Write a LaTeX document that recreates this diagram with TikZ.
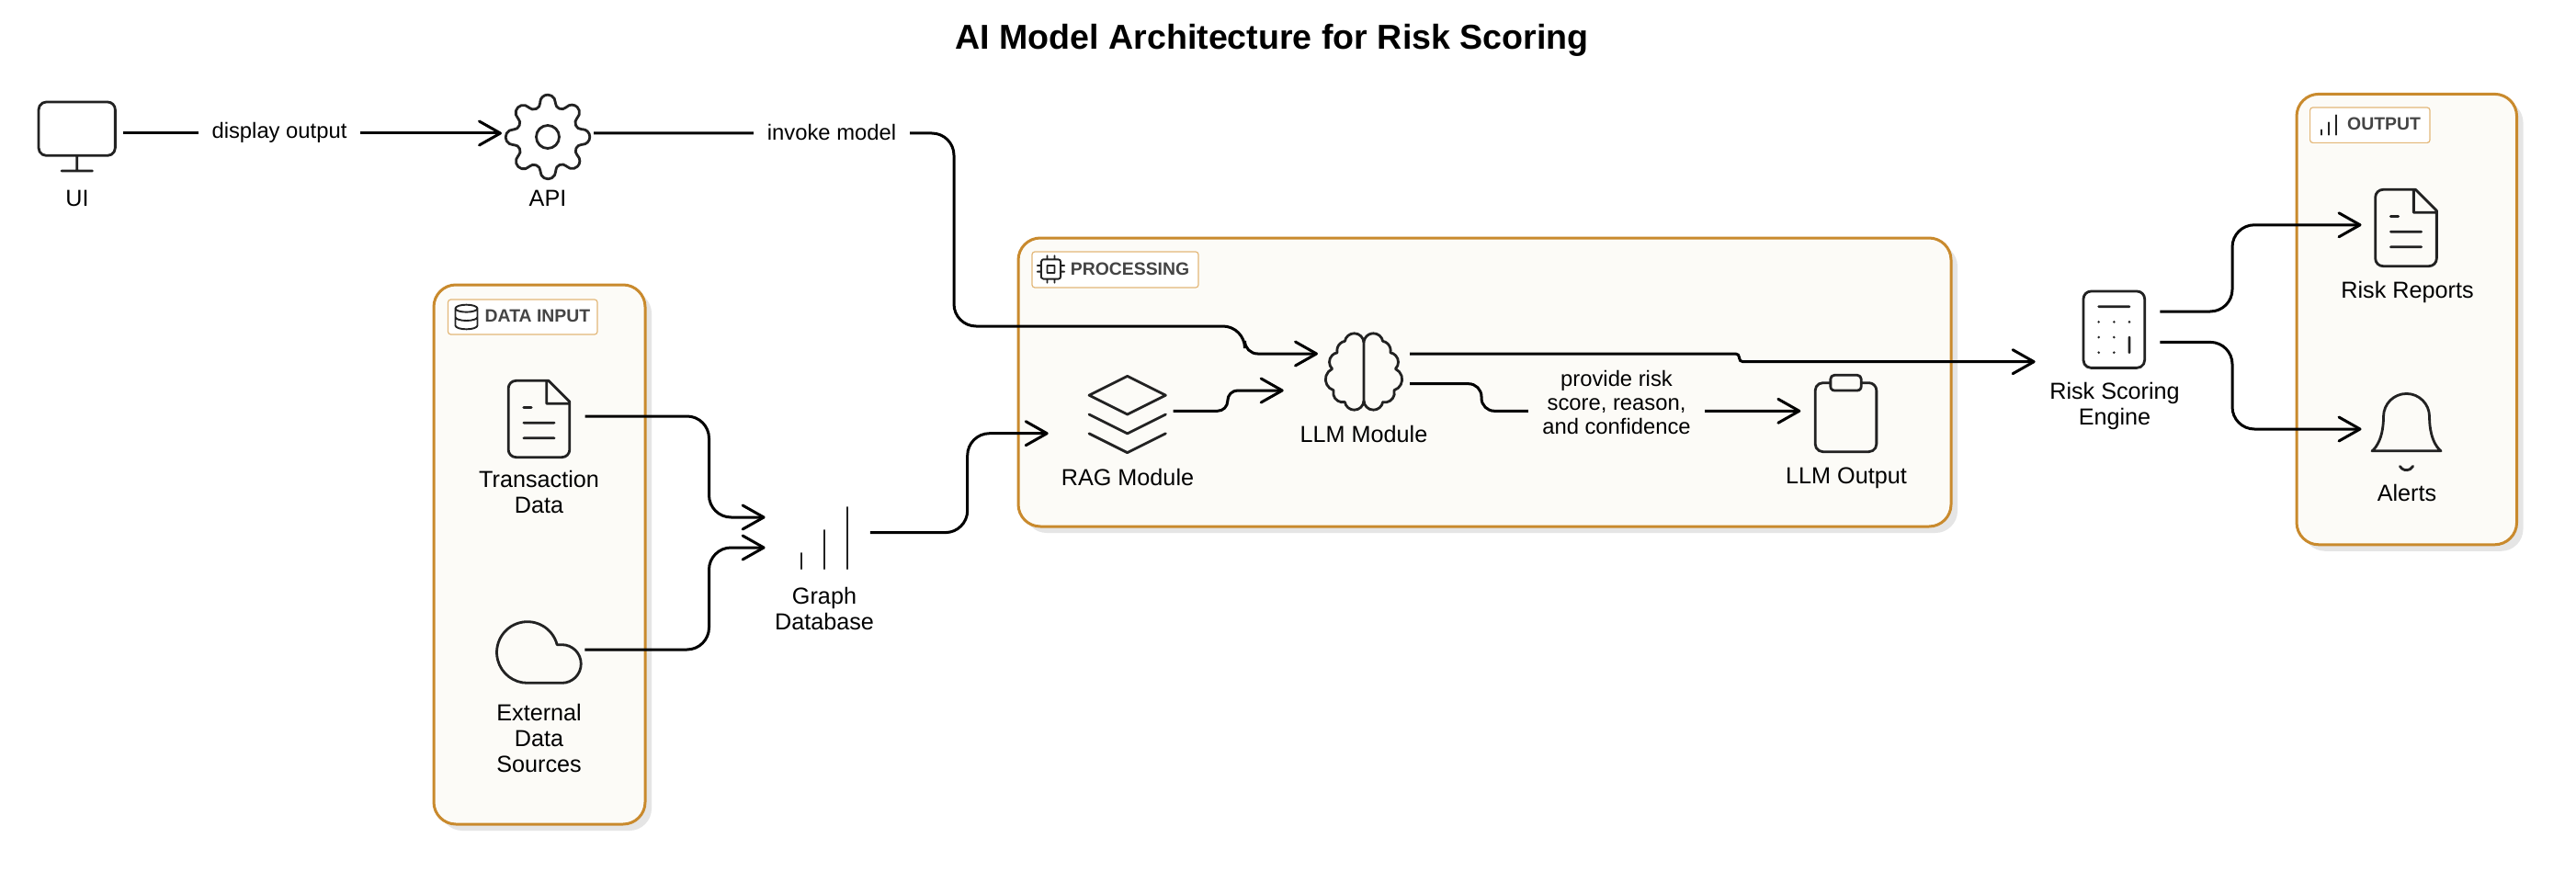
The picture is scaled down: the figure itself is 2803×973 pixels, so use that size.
\documentclass[tikz,border=0pt]{standalone}
\usepackage{fontspec}
\setmainfont{Liberation Sans}
\usetikzlibrary{arrows.meta,calc,shadows,svg.path}
\definecolor{ink}{HTML}{222222}
\definecolor{boxline}{HTML}{C98A2D}
\definecolor{chipline}{HTML}{E3B778}
\definecolor{boxfill}{HTML}{FCFBF7}
\definecolor{shadowgrey}{HTML}{E5E5E5}
\definecolor{chiptext}{HTML}{444444}
\tikzset{
  x=0.5pt,y=-0.5pt,
  groupbox/.style={draw=boxline,fill=boxfill,line width=1.5pt,rounded corners=12pt,inner sep=0pt,
    drop shadow={shadow xshift=3.5pt,shadow yshift=-3.5pt,fill=shadowgrey,opacity=1}},
  chipbox/.style={draw=chipline,fill=white,line width=0.6pt,rounded corners=1.5pt,inner sep=0pt},
  chiptxt/.style={text=chiptext,font=\fontsize{9.7}{11}\selectfont\bfseries,inner sep=0pt},
  iconport/.style={minimum size=50pt,inner sep=0pt,outer sep=0pt},
  smallport/.style={minimum size=16pt,inner sep=0pt,outer sep=0pt},
  lbl/.style={align=center,inner sep=0pt,font=\fontsize{12.6}{14}\selectfont},
  edgetxt/.style={align=center,inner xsep=7.5pt,inner ysep=1pt,font=\fontsize{11.9}{13}\selectfont},
  conn/.style={draw=black,line width=1.5pt,rounded corners=12pt,
    -{Straight Barb[length=11.5pt,width=13pt,round]}},
  iconline/.style={draw=ink,line width=1.4pt,line cap=round,line join=round},
  smallline/.style={draw=ink,line width=0.95pt,line cap=round,line join=round},
}
\newcommand{\drawicon}[4]{\draw[#1,shift={(#2.center)},xscale=#3,yscale=-#3,shift={(-12pt,-12pt)}] svg {#4};}
\begin{document}
\begin{tikzpicture}
\useasboundingbox (0,0) rectangle (2803,973);
\fill[white] (0,0) rectangle (2803,973);

% title
\node[inner sep=0pt,font=\fontsize{18.8}{22}\selectfont\bfseries] (title) at (1384,44) {AI Model Architecture for Risk Scoring};

% groups
\node[groupbox,minimum width=115pt,minimum height=293.5pt] (gdata) at (587,603.5) {};
\node[groupbox,minimum width=507.5pt,minimum height=157pt] (gproc) at (1615.5,416) {};
\node[groupbox,minimum width=119.75pt,minimum height=245.2pt] (gout) at (2618.75,347.6) {};

% group chips
\node[chipbox,minimum width=81.25pt,minimum height=19pt] (cdata) at (568.75,345) {};
\node[chipbox,minimum width=90.5pt,minimum height=19.5pt] (cproc) at (1213.5,293.5) {};
\node[chipbox,minimum width=65.2pt,minimum height=19.2pt] (cout) at (2578.8,136.2) {};
\node[chiptxt] (tdata) at (585,344) {DATA INPUT};
\node[chiptxt] (tproc) at (1229.5,293) {PROCESSING};
\node[chiptxt] (tout) at (2594,135) {OUTPUT};
\node[smallport] (idb) at (507.5,345) {};
\node[smallport] (icpu) at (1143.5,293) {};
\node[smallport] (ibar) at (2533.6,136) {};
\drawicon{smallline}{idb}{0.6667}{M3 5A9 3 0 0 0 21 5A9 3 0 0 0 3 5Z M3 5V19A9 3 0 0 0 21 19V5 M3 12A9 3 0 0 0 21 12}
\drawicon{smallline}{icpu}{0.6667}{M6 4H18a2 2 0 0 1 2 2V18a2 2 0 0 1 -2 2H6a2 2 0 0 1 -2 -2V6a2 2 0 0 1 2 -2Z M9 9H15V15H9Z M9 1V4 M15 1V4 M9 20V23 M15 20V23 M20 9H23 M20 14H23 M1 9H4 M1 14H4}
\drawicon{smallline}{ibar}{0.6667}{M12 20V10 M18 20V4 M6 20V16}

% icon nodes
\node[iconport] (ui) at (83.7,148.5) {};
\node[iconport] (api) at (596,149) {};
\node[iconport] (trans) at (586.5,456) {};
\node[iconport] (ext) at (586.4,710) {};
\node[iconport] (graph) at (896.9,585.6) {};
\node[iconport] (rag) at (1226.7,451) {};
\node[iconport] (llm) at (1484,404.5) {};
\node[iconport] (out) at (2008.5,450) {};
\node[iconport] (engine) at (2300.3,358.7) {};
\node[iconport] (reports) at (2618,248) {};
\node[iconport] (alerts) at (2618.5,470) {};

\drawicon{iconline}{ui}{2.0833}{M4 3H20a2 2 0 0 1 2 2V15a2 2 0 0 1 -2 2H4a2 2 0 0 1 -2 -2V5a2 2 0 0 1 2 -2Z M8 21H16 M12 17V21}
\drawicon{iconline}{api}{2.0833}{M15 12a3 3 0 0 1 -6 0a3 3 0 0 1 6 0Z M19.4 15a1.65 1.65 0 0 0 .33 1.82l.06 .06a2 2 0 0 1 0 2.83 2 2 0 0 1 -2.83 0l-.06 -.06a1.65 1.65 0 0 0 -1.82 -.33 1.65 1.65 0 0 0 -1 1.51V21a2 2 0 0 1 -2 2 2 2 0 0 1 -2 -2v-.09A1.65 1.65 0 0 0 9 19.4a1.65 1.65 0 0 0 -1.82 .33l-.06 .06a2 2 0 0 1 -2.83 0 2 2 0 0 1 0 -2.83l.06 -.06a1.65 1.65 0 0 0 .33 -1.82 1.65 1.65 0 0 0 -1.51 -1H3a2 2 0 0 1 -2 -2 2 2 0 0 1 2 -2h.09A1.65 1.65 0 0 0 4.6 9a1.65 1.65 0 0 0 -.33 -1.82l-.06 -.06a2 2 0 0 1 0 -2.83 2 2 0 0 1 2.83 0l.06 .06a1.65 1.65 0 0 0 1.82 .33H9a1.65 1.65 0 0 0 1 -1.51V3a2 2 0 0 1 2 -2 2 2 0 0 1 2 2v.09a1.65 1.65 0 0 0 1 1.51 1.65 1.65 0 0 0 1.82 -.33l.06 -.06a2 2 0 0 1 2.83 0 2 2 0 0 1 0 2.83l-.06 .06a1.65 1.65 0 0 0 -.33 1.82V9a1.65 1.65 0 0 0 1.51 1H21a2 2 0 0 1 2 2 2 2 0 0 1 -2 2h-.09a1.65 1.65 0 0 0 -1.51 1Z}
\drawicon{iconline}{trans}{2.0833}{M14.5 2H6a2 2 0 0 0 -2 2v16a2 2 0 0 0 2 2h12a2 2 0 0 0 2 -2V7.5L14.5 2Z M14 2V8H20 M16 13H8 M16 17H8 M10 9H8}
\drawicon{iconline}{reports}{2.0833}{M14.5 2H6a2 2 0 0 0 -2 2v16a2 2 0 0 0 2 2h12a2 2 0 0 0 2 -2V7.5L14.5 2Z M14 2V8H20 M16 13H8 M16 17H8 M10 9H8}
\drawicon{iconline}{ext}{2.0833}{M18 10h-1.26A8 8 0 1 0 9 20h9a5 5 0 0 0 0 -10Z}
\drawicon{iconline}{graph}{2.0833}{M12 20V10 M18 20V4 M6 20V16}
\drawicon{iconline}{rag}{2.0833}{M12 2L2 7L12 12L22 7L12 2Z M2 17L12 22L22 17 M2 12L12 17L22 12}
\drawicon{iconline}{llm}{2.0833}{M9.5 2A2.5 2.5 0 0 1 12 4.5v15a2.5 2.5 0 0 1 -4.96 .44 2.5 2.5 0 0 1 -2.96 -3.08 3 3 0 0 1 -.34 -5.58 2.5 2.5 0 0 1 1.32 -4.24 2.5 2.5 0 0 1 1.98 -3A2.5 2.5 0 0 1 9.5 2Z M14.5 2A2.5 2.5 0 0 0 12 4.5v15a2.5 2.5 0 0 0 4.96 .44 2.5 2.5 0 0 0 2.96 -3.08 3 3 0 0 0 .34 -5.58 2.5 2.5 0 0 0 -1.32 -4.24 2.5 2.5 0 0 0 -1.98 -3A2.5 2.5 0 0 0 14.5 2Z}
\drawicon{iconline}{out}{2.0833}{M9 2H15a1 1 0 0 1 1 1V5a1 1 0 0 1 -1 1H9a1 1 0 0 1 -1 -1V3a1 1 0 0 1 1 -1Z M16 4h2a2 2 0 0 1 2 2v14a2 2 0 0 1 -2 2H6a2 2 0 0 1 -2 -2V6a2 2 0 0 1 2 -2h2}
\drawicon{iconline}{engine}{2.0833}{M6 2H18a2 2 0 0 1 2 2V20a2 2 0 0 1 -2 2H6a2 2 0 0 1 -2 -2V4a2 2 0 0 1 2 -2Z M8 6H16 M16 14V18 M16 10h.01 M12 10h.01 M8 10h.01 M12 14h.01 M8 14h.01 M12 18h.01 M8 18h.01}
\drawicon{iconline}{alerts}{2.0833}{M6 8a6 6 0 0 1 12 0c0 7 3 9 3 9H3s3 -2 3 -9 M10.3 21a1.94 1.94 0 0 0 3.4 0}

% icon labels
\node[lbl] (lui) at (84,216) {UI};
\node[lbl] (lapi) at (596,216) {API};
\node[lbl] (ltrans) at (586.6,535) {Transaction\\Data};
\node[lbl] (lext) at (586.6,803.5) {External\\Data\\Sources};
\node[lbl] (lgraph) at (897,662.5) {Graph\\Database};
\node[lbl] (lrag) at (1227,519.5) {RAG Module};
\node[lbl] (lllm) at (1484,472.5) {LLM Module};
\node[lbl] (lout) at (2009,520.5) {LLM Output};
\node[lbl] (lengine) at (2301,441.5) {Risk Scoring\\Engine};
\node[lbl] (lreports) at (2619.5,318) {Risk Reports};
\node[lbl] (lalerts) at (2619,536.5) {Alerts};

% connectors
\draw[conn] ($(ui.east)+(0,-3.5)$) -- ($(api.west)+(0,-4)$);
\draw[conn] ($(api.east)+(0,-4)$) -| (1038,355) -- (1354.5,355) [rounded corners=7pt] -- (1354.5,385) -- ($(llm.west)+(0,-19.5)$);
\draw[conn] ($(trans.east)+(0,-3)$) -| (771.5,563) -- ($(graph.west)+(-14.3,-22.6)$);
\draw[conn] ($(ext.east)+(0,-3)$) -| (771.5,596) -- ($(graph.west)+(-14.3,10.4)$);
\draw[conn] ($(graph.east)+(0,-6)$) -| (1052.7,471.7) -- ($(rag.west)+(-36,20.7)$);
\draw[conn,rounded corners=5.5pt] ($(rag.east)+(0,-3.7)$) -| (1335.8,425) -- ($(llm.west)+(-37.3,20.5)$);
\draw[conn,rounded corners=2pt] ($(llm.east)+(0,-19.5)$) -| (1892.5,393.7) -- ($(engine.west)+(-35.7,35)$);
\draw[conn,rounded corners=7pt] ($(llm.east)+(0,13.2)$) -| (1612,447.3) -- ($(out.west)+(0.8,-2.7)$);
\draw[conn] ($(engine.east)+(0,-19.7)$) -| (2429,244.8) -- ($(reports.west)+(1.5,-3.2)$);
\draw[conn] ($(engine.east)+(0,13.7)$) -| (2429,467) -- ($(alerts.west)+(1,-3)$);

% connector labels
\node[edgetxt,fill=white] (edisp) at (304,144) {display output};
\node[edgetxt,fill=white] (einv) at (905,144) {invoke model};
\node[edgetxt,fill=boxfill] (eprov) at (1759,438) {provide risk\\score, reason,\\and confidence};
\end{tikzpicture}
\end{document}
